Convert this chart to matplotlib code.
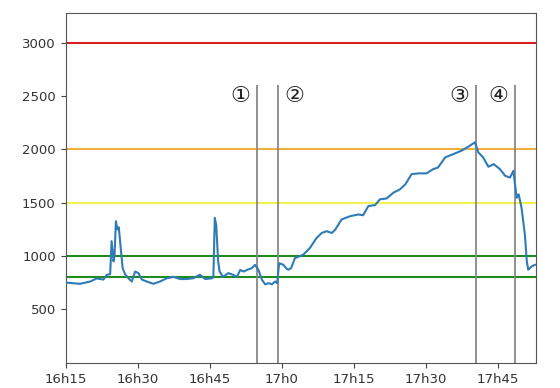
import datetime
import matplotlib
matplotlib.use("Agg")
import matplotlib.pyplot as plt
from matplotlib.ticker import FuncFormatter
import matplotlib.dates as mdates

# minutes after 16h15 and measured value
minutes = [0.0, 3.0, 5.1, 6.5, 7.9, 8.6, 9.3, 9.6, 10.0, 10.2, 10.5, 10.8, 11.1, 11.5, 11.9,
           12.4, 13.1, 13.8, 14.5, 15.2, 15.9, 16.9, 18.3, 19.7, 21.1, 22.5, 23.9, 25.2,
           26.6, 28.0, 29.1, 30.5, 30.8, 31.1, 31.4, 31.8, 32.1, 32.8, 33.9, 34.9, 35.7,
           36.4, 37.1, 37.8, 38.8, 39.5, 40.2, 40.9, 41.6, 42.3, 43.0, 43.7, 44.1, 44.5,
           45.4, 46.1, 46.4, 47.0, 47.8, 49.5, 50.9, 52.3, 53.4, 54.4, 55.5, 56.2, 57.5,
           59.3, 61.0, 62.0, 63.1, 64.5, 65.5, 66.9, 68.3, 69.7, 70.8, 72.1, 73.5, 75.2,
           76.6, 77.6, 79.1, 80.8, 82.5, 83.9, 85.3, 86.0, 87.0, 88.1, 89.2, 90.5, 91.6,
           92.6, 93.3, 93.6, 94.0, 94.4, 95.0, 95.7, 96.1, 96.4, 97.1, 97.8]
values = [752, 740, 761, 790, 780, 825, 830, 1140, 950, 1000, 1327, 1250, 1270, 1075, 887,
          830, 792, 762, 855, 840, 780, 762, 740, 762, 792, 805, 785, 785,
          792, 825, 785, 792, 800, 1358, 1290, 950, 855, 805, 840, 825, 805,
          870, 855, 870, 887, 918, 870, 780, 735, 746, 736, 762, 746, 934,
          918, 880, 872, 887, 981, 1012, 1075, 1170, 1217, 1233, 1217, 1248, 1343,
          1374, 1390, 1383, 1469, 1478, 1532, 1540, 1594, 1626, 1673, 1768, 1775, 1775,
          1815, 1830, 1925, 1956, 1988, 2025, 2066, 1972, 1925, 1837, 1862, 1815, 1752,
          1736, 1799, 1689, 1547, 1579, 1453, 1202, 950, 872, 903, 918]

seuils = [3000, 2000, 1500, 1000, 800]
seuil_couleurs = ["#d62020", "#f0b040", "#f5f050", "#1e8c1e", "#1e8c1e"]

# evenements (minutes apres 16h15)
evt_minutes = [39.8, 44.2, 85.5, 93.6]
evt_labels = ["①", "②", "③", "④"]
evt_cote = ["left", "right", "left", "left"]

debut = datetime.datetime(2024, 1, 1, 16, 15)
tider = [debut + datetime.timedelta(minutes=m) for m in minutes]
evt_tider = [debut + datetime.timedelta(minutes=m) for m in evt_minutes]

fig = plt.figure(figsize=(5.6, 3.88), dpi=100)
ax = fig.add_axes([0.117, 0.065, 0.84, 0.902])

for s, c in zip(seuils, seuil_couleurs):
    ax.axhline(s, color=c, linewidth=1.5, zorder=1)

ax.vlines(evt_tider, 0, 2600, color="#888888", linewidth=1.3, zorder=2)
for t, lab, cote in zip(evt_tider, evt_labels, evt_cote):
    dx = -12 if cote == "left" else 12
    ax.annotate(lab, (t, 2500), xytext=(dx, 0), textcoords="offset points",
                ha="center", va="center", fontsize=16,
                family=["DejaVu Sans", "Noto Sans CJK JP"], color="#222222")

ax.plot(tider, values, color="#2f7bb8", linewidth=1.5, zorder=3)

ax.set_xlim(debut, debut + datetime.timedelta(minutes=98))
ax.set_ylim(0, 3280)
ax.set_yticks([500, 1000, 1500, 2000, 2500, 3000])
ax.set_xticks([debut + datetime.timedelta(minutes=15 * i) for i in range(7)])
ax.xaxis.set_major_formatter(FuncFormatter(
    lambda v, p: "{}h{}".format(mdates.num2date(v).hour, mdates.num2date(v).minute)))

for sp in ax.spines.values():
    sp.set_color("#555555")
ax.tick_params(labelsize=9.5, colors="#444444", labelcolor="#333333")

fig.savefig("out.png")
